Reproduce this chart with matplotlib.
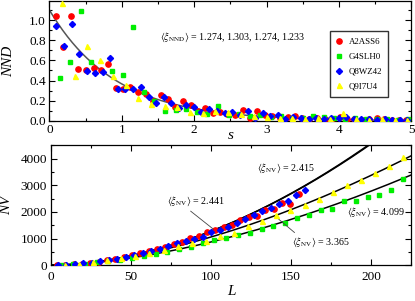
import numpy as np
import matplotlib
matplotlib.use("Agg")
import matplotlib.pyplot as plt
from matplotlib.ticker import MultipleLocator, FormatStrFormatter

plt.rcParams['font.family'] = ['Liberation Serif', 'DejaVu Serif']
plt.rcParams['mathtext.fontset'] = 'stix'

labels = ["A2ASS6", "G4SLH0", "Q8WZ42", "Q9I7U4"]
colors = ["#ff0000", "#00ee00", "#0000ff", "#ffff00"]
markers = ["o", "s", "D", "^"]
msizes = [3.8, 2.7, 3.1, 3.6]

# ---- NND histograms (top) ----
s_red = [0.09, 0.19, 0.30, 0.40, 0.50, 0.61, 0.71, 0.81, 0.92, 1.02, 1.12, 1.23,
         1.33, 1.43, 1.54, 1.64, 1.74, 1.84, 1.95, 2.05, 2.15, 2.26, 2.36, 2.46,
         2.57, 2.67, 2.77, 2.87, 2.98, 3.08, 3.18, 3.29, 3.39, 3.49, 3.59, 3.70,
         3.80, 3.90, 4.01, 4.11, 4.21, 4.32, 4.42, 4.52, 4.62, 4.73, 4.83, 4.93]
nnd_red = [1.04, 0.735, 1.04, 0.515, 0.50, 0.52, 0.505, 0.565, 0.33, 0.317, 0.34, 0.284,
           0.264, 0.198, 0.257, 0.215, 0.142, 0.198, 0.158, 0.10, 0.13, 0.08, 0.086, 0.07,
           0.06, 0.109, 0.033, 0.099, 0.06, 0.05, 0.03, 0.04, 0.05, 0.03, 0.02, 0.03,
           0.02, 0.02, 0.043, 0.02, 0.02, 0.01, 0.02, 0.025, 0.015, 0.01, 0.01, 0.005]

s_green = [0.14, 0.28, 0.43, 0.58, 0.87, 1.02, 1.16, 1.31, 1.45, 1.60, 1.75, 1.89,
           2.04, 2.18, 2.33, 2.48, 2.62, 2.77, 2.91, 3.06, 3.20, 3.35, 3.50, 3.64,
           3.79, 3.93, 4.08, 4.22, 4.37, 4.52, 4.66, 4.81, 4.95]
nnd_green = [0.43, 0.58, 1.09, 0.58, 0.49, 0.455, 0.93, 0.284, 0.20, 0.10, 0.11, 0.12,
             0.09, 0.065, 0.15, 0.06, 0.07, 0.05, 0.06, 0.04, 0.05, 0.03, 0.03, 0.05,
             0.04, 0.03, 0.02, 0.03, 0.02, 0.015, 0.02, 0.01, 0.015]

s_blue = [0.09, 0.20, 0.31, 0.41, 0.52, 0.63, 0.74, 0.84, 0.95, 1.05, 1.15, 1.26,
          1.37, 1.47, 1.58, 1.68, 1.79, 1.89, 2.00, 2.10, 2.21, 2.31, 2.42, 2.52,
          2.63, 2.74, 2.84, 2.95, 3.05, 3.16, 3.26, 3.37, 3.47, 3.58, 3.68, 3.79,
          3.89, 4.00, 4.10, 4.21, 4.31, 4.42, 4.52, 4.63, 4.73, 4.84, 4.94]
nnd_blue = [0.94, 0.745, 0.957, 0.663, 0.495, 0.475, 0.488, 0.62, 0.317, 0.314, 0.314, 0.335,
            0.235, 0.175, 0.235, 0.175, 0.125, 0.155, 0.14, 0.09, 0.116, 0.10, 0.076, 0.086,
            0.06, 0.099, 0.027, 0.076, 0.05, 0.06, 0.02, 0.04, 0.033, 0.02, 0.03, 0.02,
            0.025, 0.03, 0.04, 0.02, 0.015, 0.02, 0.01, 0.015, 0.01, 0.01, 0.005]

s_yellow = [0.17, 0.35, 0.52, 0.70, 0.88, 1.06, 1.23, 1.41, 1.59, 1.76, 1.94, 2.12,
            2.29, 2.47, 2.65, 2.82, 3.00, 3.18, 3.35, 3.53, 3.71, 3.88, 4.06, 4.24,
            4.41, 4.59, 4.77, 4.94]
nnd_yellow = [1.165, 0.445, 0.745, 0.60, 0.445, 0.356, 0.225, 0.17, 0.15, 0.14, 0.092, 0.08,
              0.10, 0.086, 0.07, 0.05, 0.04, 0.03, 0.03, 0.02, 0.03, 0.02, 0.082, 0.02,
              0.01, 0.015, 0.01, 0.005]

nnd_amp, nnd_rate = 1.1, 1.1

# ---- NV vs L (bottom) ----
L_red = [3.9, 9.1, 14.3, 19.5, 24.7, 29.9, 35.1, 40.3, 45.5, 50.7, 55.9, 61.1, 66.3, 71.5,
         76.7, 81.9, 87.1, 92.3, 97.5, 102.7, 107.9, 113.1, 118.3, 123.5, 128.7, 133.9,
         139.1, 144.3, 149.5, 154.7]
nv_red = [4, 16, 37, 64, 99, 140, 188, 242, 303, 370, 443, 522, 606, 697, 795, 890, 1010,
          1090, 1230, 1312, 1436, 1500, 1690, 1800, 1849, 2080, 2122, 2336, 2311, 2662]

L_green = [6.65, 14.0, 21.35, 28.7, 36.05, 43.4, 50.75, 58.1, 65.45, 72.8, 80.15, 87.5,
           94.85, 102.2, 109.55, 116.9, 124.25, 131.6, 138.95, 146.3, 153.65, 161.0,
           168.35, 175.7, 183.05, 190.4, 197.75, 205.1, 212.45, 219.8]
nv_green = [9, 33, 66, 109, 159, 217, 282, 353, 431, 515, 605, 700, 830, 930, 1035, 1120,
            1222, 1350, 1462, 1598, 1774, 1898, 2062, 2100, 2400, 2400, 2561, 2649, 2812, 3225]

L_blue = [4.5, 9.8, 15.1, 20.4, 25.7, 31.1, 36.4, 41.7, 47.0, 52.3, 57.6, 62.9, 68.2, 73.5,
          78.8, 84.2, 89.5, 94.8, 100.1, 105.4, 110.7, 116.0, 121.3, 126.6, 131.9, 137.2,
          142.5, 147.8, 153.1, 158.4]
nv_blue = [4, 18, 39, 68, 105, 148, 198, 255, 317, 386, 461, 543, 630, 723, 821, 928, 975,
           1061, 1230, 1330, 1436, 1600, 1749, 1900, 2025, 2150, 2311, 2400, 2650, 2837]

L_yellow = [8.8, 17.6, 26.4, 35.2, 44.0, 52.8, 61.6, 70.4, 79.2, 88.0, 96.8, 105.6, 114.4,
            123.2, 132.0, 140.8, 149.6, 158.4, 167.2, 176.0, 184.8, 193.6, 202.4, 211.2, 220.0]
nv_yellow = [18, 58, 115, 186, 269, 365, 472, 591, 719, 850, 911, 1087, 1222, 1474, 1661,
             1898, 2085, 2250, 2498, 2749, 3000, 3210, 3473, 3724, 4061]

# power-law fits NV = c * L^b
fit_c = [0.266, 0.262, 0.485, 0.40]
fit_b = [1.84, 1.844, 1.67, 1.67]

fig = plt.figure(figsize=(4.15, 3.01), dpi=100)
ax1 = fig.add_axes([0.119, 0.5985, 0.8723, 0.3985])
ax2 = fig.add_axes([0.122, 0.1186, 0.8693, 0.3987])
ax2.set_facecolor("none")

tick_kw = dict(direction="in", top=True, right=True, labelsize=9.5, width=0.8)

# top panel
s_data = [s_red, s_green, s_blue, s_yellow]
nnd_data = [nnd_red, nnd_green, nnd_blue, nnd_yellow]
for sx, ny, c, m, ms, lab in zip(s_data, nnd_data, colors, markers, msizes, labels):
    ax1.plot(sx, ny, ls="none", marker=m, ms=ms, color=c, mec=c, label=lab, zorder=3)
sf = np.linspace(0, 5, 300)
ax1.plot(sf, nnd_amp * np.exp(-nnd_rate * sf), color="#555555", lw=1.1, zorder=2)
ax1.set_xlim(0, 5)
ax1.set_ylim(0, 1.19)
ax1.xaxis.set_major_locator(MultipleLocator(1))
ax1.xaxis.set_minor_locator(MultipleLocator(0.5))
ax1.yaxis.set_major_locator(MultipleLocator(0.2))
ax1.yaxis.set_minor_locator(MultipleLocator(0.1))
ax1.yaxis.set_major_formatter(FormatStrFormatter("%.1f"))
ax1.tick_params(which="major", length=4.5, pad=2.5, **tick_kw)
ax1.tick_params(which="minor", length=2.5, **tick_kw)
ax1.set_ylabel("NND", style="italic", fontsize=11)
ax1.yaxis.set_label_coords(-0.095, 0.5)
ax1.set_xlabel("s", style="italic", fontsize=11)
ax1.xaxis.set_label_coords(0.5, -0.07)
ax1.text(1.53, 0.83, r"$\langle\xi_{\rm NND}\rangle$ = 1.274, 1.303, 1.274, 1.233",
         fontsize=7.2, va="center")
leg = ax1.legend(loc="upper left", bbox_to_anchor=(0.775, 0.745), fontsize=6.4,
                 frameon=True, fancybox=False, edgecolor="#333333", framealpha=1,
                 handlelength=0.6, handletextpad=0.8, labelspacing=0.75,
                 borderpad=0.7, borderaxespad=0, markerscale=1.0)
leg.get_frame().set_linewidth(1.0)

# bottom panel
L_data = [L_red, L_green, L_blue, L_yellow]
nv_data = [nv_red, nv_green, nv_blue, nv_yellow]
for lx, ny, c, m, ms in zip(L_data, nv_data, colors, markers, msizes):
    ax2.plot(lx, ny, ls="none", marker=m, ms=ms, color=c, mec=c, zorder=3)
Lf = np.linspace(0, 225, 400)
for c, b in zip(fit_c, fit_b):
    ax2.plot(Lf, c * Lf ** b, color="black", lw=1.1, zorder=2)
ax2.set_xlim(0, 225)
ax2.set_ylim(0, 4500)
ax2.xaxis.set_major_locator(MultipleLocator(50))
ax2.xaxis.set_minor_locator(MultipleLocator(25))
ax2.yaxis.set_major_locator(MultipleLocator(1000))
ax2.yaxis.set_minor_locator(MultipleLocator(500))
ax2.tick_params(which="major", length=4.5, pad=2.5, **tick_kw)
ax2.tick_params(which="minor", length=2.5, **tick_kw)
ax2.tick_params(axis="x", pad=4)
ax2.set_ylabel("NV", style="italic", fontsize=11)
ax2.yaxis.set_label_coords(-0.105, 0.5)
ax2.set_xlabel("L", style="italic", fontsize=11)
ax2.xaxis.set_label_coords(0.5, -0.165)

ax2.annotate(r"$\langle\xi_{\rm NV}\rangle$ = 2.441", xy=(101.6, 1350), xytext=(72.5, 2385),
             fontsize=7.2, va="center",
             arrowprops=dict(arrowstyle="-", color="#444444", lw=0.6, shrinkA=0, shrinkB=0,
                             relpos=(0.35, 0)))
ax2.text(128.8, 3622, r"$\langle\xi_{\rm NV}\rangle$ = 2.415", fontsize=7.2, va="center")
ax2.annotate(r"$\langle\xi_{\rm NV}\rangle$ = 3.365", xy=(142.3, 1725), xytext=(150.6, 874),
             fontsize=7.2, va="center",
             arrowprops=dict(arrowstyle="-", color="#444444", lw=0.6, shrinkA=0, shrinkB=0,
                             relpos=(0.1, 1)))
ax2.text(185, 1972, r"$\langle\xi_{\rm NV}\rangle$ = 4.099", fontsize=7.2, va="center")

for ax in (ax1, ax2):
    for sp in ax.spines.values():
        sp.set_linewidth(0.9)

fig.savefig("out.png", dpi=100)
